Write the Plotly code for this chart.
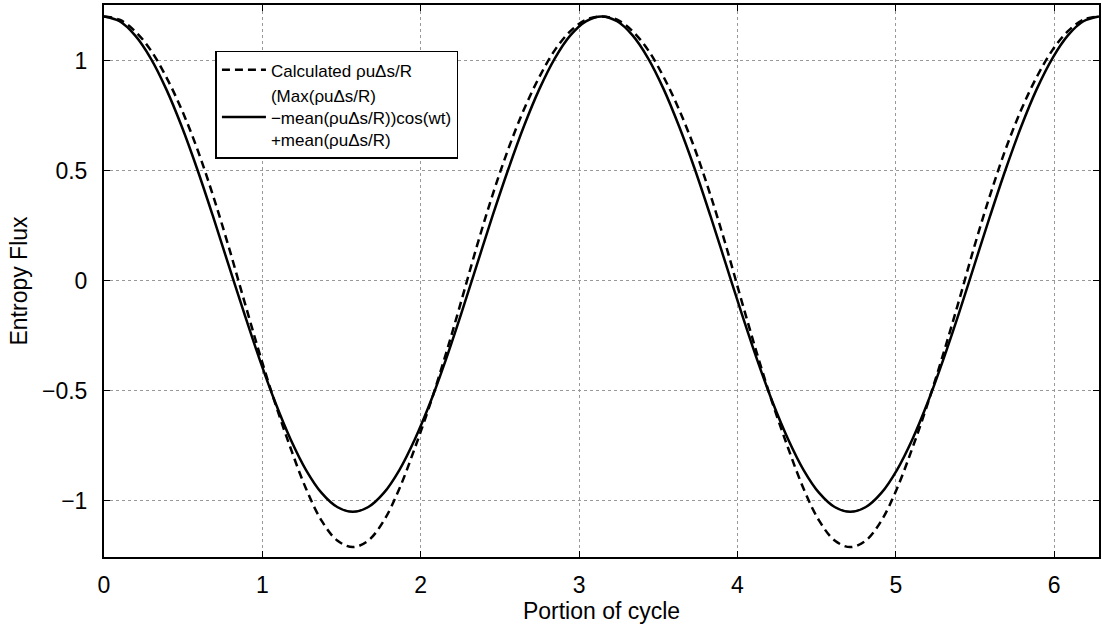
import plotly.graph_objects as go

# sample positions along the cycle (every pi/32)
x = [0.0, 0.098, 0.196, 0.295, 0.393, 0.491, 0.589, 0.687, 0.785,
     0.884, 0.982, 1.080, 1.178, 1.276, 1.374, 1.473, 1.571,
     1.669, 1.767, 1.865, 1.963, 2.062, 2.160, 2.258, 2.356,
     2.454, 2.553, 2.651, 2.749, 2.847, 2.945, 3.043, 3.142,
     3.240, 3.338, 3.436, 3.534, 3.632, 3.731, 3.829, 3.927,
     4.025, 4.123, 4.221, 4.320, 4.418, 4.516, 4.614, 4.712,
     4.811, 4.909, 5.007, 5.105, 5.203, 5.301, 5.400, 5.498,
     5.596, 5.694, 5.792, 5.890, 5.989, 6.087, 6.185, 6.283]

# calculated entropy flux (dashed)
calculated = [1.2, 1.185, 1.133, 1.047, 0.925, 0.776, 0.598, 0.39, 0.16,
              -0.088, -0.33, -0.555, -0.76, -0.945, -1.09, -1.18, -1.21,
              -1.18, -1.09, -0.945, -0.76, -0.555, -0.33, -0.088, 0.16,
              0.39, 0.598, 0.776, 0.925, 1.047, 1.133, 1.185, 1.2,
              1.185, 1.133, 1.047, 0.925, 0.776, 0.598, 0.39, 0.16,
              -0.088, -0.33, -0.555, -0.76, -0.945, -1.09, -1.18, -1.21,
              -1.18, -1.09, -0.945, -0.76, -0.555, -0.33, -0.088, 0.16,
              0.39, 0.598, 0.776, 0.925, 1.047, 1.133, 1.185, 1.2]

# cosine fit (solid)
fitted = [1.2, 1.178, 1.114, 1.01, 0.87, 0.7, 0.506, 0.295, 0.075,
          -0.145, -0.356, -0.55, -0.72, -0.86, -0.964, -1.028, -1.05,
          -1.028, -0.964, -0.86, -0.72, -0.55, -0.356, -0.145, 0.075,
          0.295, 0.506, 0.7, 0.87, 1.01, 1.114, 1.178, 1.2,
          1.178, 1.114, 1.01, 0.87, 0.7, 0.506, 0.295, 0.075,
          -0.145, -0.356, -0.55, -0.72, -0.86, -0.964, -1.028, -1.05,
          -1.028, -0.964, -0.86, -0.72, -0.55, -0.356, -0.145, 0.075,
          0.295, 0.506, 0.7, 0.87, 1.01, 1.114, 1.178, 1.2]

xticks = [0, 1, 2, 3, 4, 5, 6]
yticks = [-1, -0.5, 0, 0.5, 1]

fig = go.Figure()
fig.add_trace(go.Scatter(
    x=x, y=calculated, mode='lines',
    line=dict(color='black', width=2.5, dash='8px,5px', shape='spline', smoothing=1),
    name='Calculated \u03c1u\u0394s/R'))
fig.add_trace(go.Scatter(
    x=x, y=fitted, mode='lines',
    line=dict(color='black', width=2.5, shape='spline', smoothing=1),
    name='(Max(\u03c1u\u0394s/R)<br>\u2212mean(\u03c1u\u0394s/R))cos(wt)<br>+mean(\u03c1u\u0394s/R)'))

axis_style = dict(
    showline=True, linecolor='black', linewidth=2, mirror='ticks',
    ticks='inside', ticklen=6, tickcolor='black', tickwidth=1,
    showgrid=True, gridcolor='#999999', griddash='dot', gridwidth=1,
    zeroline=False, tickfont=dict(size=23, color='black'),
)

fig.update_xaxes(range=[0, 6.2832], tickvals=xticks, ticklabelstandoff=6,
                 title=dict(text='Portion of cycle', font=dict(size=23, color='black'), standoff=0),
                 **axis_style)
fig.update_yaxes(range=[-1.255, 1.252], tickvals=yticks, ticklabelstandoff=10,
                 title=dict(text='Entropy Flux', font=dict(size=23, color='black'), standoff=8),
                 **axis_style)

fig.update_layout(
    width=1102, height=628,
    margin=dict(l=104, r=1, t=5, b=71),
    paper_bgcolor='white', plot_bgcolor='white',
    font=dict(family='Liberation Sans, Arial, sans-serif', color='black'),
    legend=dict(x=0.112, y=0.917, xanchor='left', yanchor='top',
                bgcolor='white', bordercolor='black', borderwidth=1.5,
                font=dict(size=17, color='black'), tracegroupgap=0,
                itemwidth=44, entrywidth=235),
)

fig.write_html("out.html", config={'displayModeBar': False},
               post_script="document.body.style.margin='0';")
